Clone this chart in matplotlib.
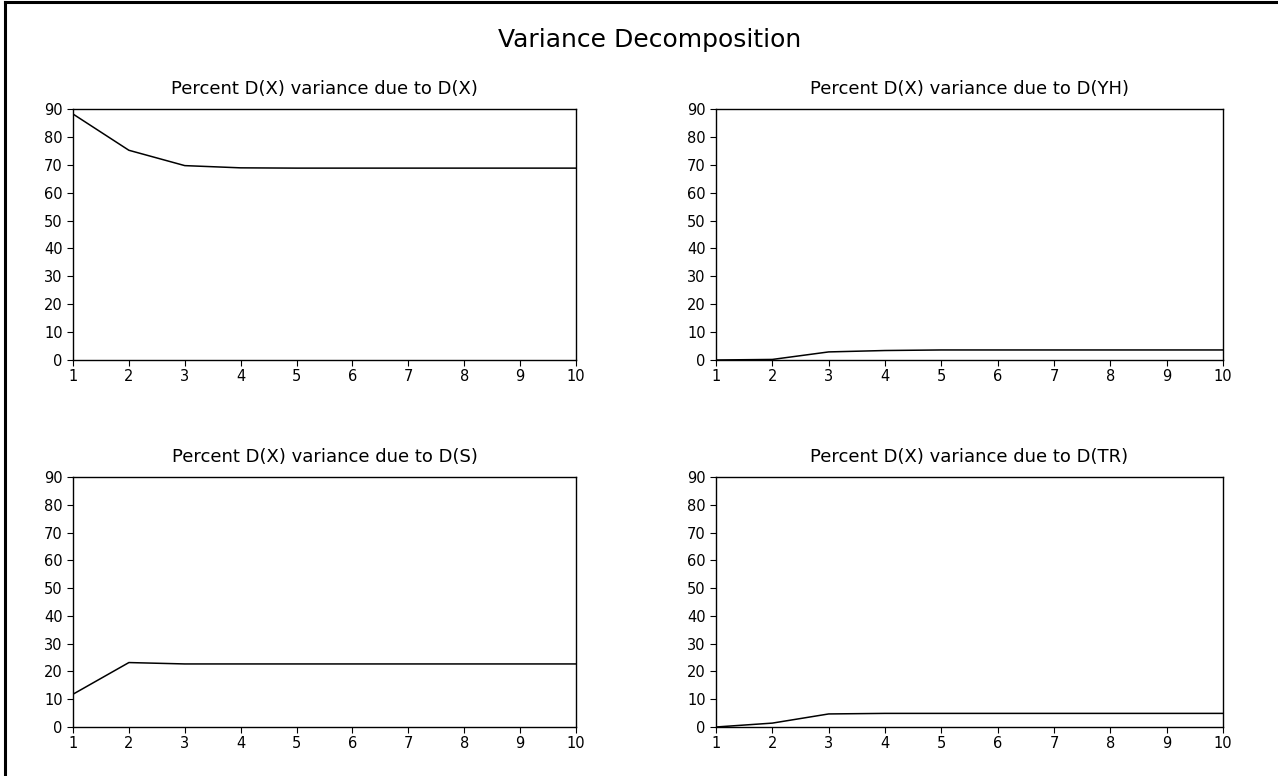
import matplotlib
matplotlib.use("Agg")
import matplotlib.pyplot as plt
from matplotlib.lines import Line2D

plt.rcParams['font.family'] = ['DejaVu Sans']

periods = [1, 2, 3, 4, 5, 6, 7, 8, 9, 10]
due_to_x = [88.2, 75.2, 69.7, 68.9, 68.8, 68.8, 68.8, 68.8, 68.8, 68.8]
due_to_yh = [0.0, 0.2, 2.9, 3.4, 3.6, 3.6, 3.6, 3.6, 3.6, 3.6]
due_to_s = [11.8, 23.2, 22.7, 22.7, 22.7, 22.7, 22.7, 22.7, 22.7, 22.7]
due_to_tr = [0.0, 1.4, 4.7, 4.9, 4.9, 4.9, 4.9, 4.9, 4.9, 4.9]

titles = [
    "Percent D(X) variance due to D(X)",
    "Percent D(X) variance due to D(YH)",
    "Percent D(X) variance due to D(S)",
    "Percent D(X) variance due to D(TR)",
]
series = [due_to_x, due_to_yh, due_to_s, due_to_tr]
y_ticks = [0, 10, 20, 30, 40, 50, 60, 70, 80, 90]

W, H = 1278, 776
fig = plt.figure(figsize=(W / 100, H / 100), dpi=100)

# axes boxes in pixels: (left, top, right, bottom)
boxes = [
    (73, 109, 576, 360),
    (716, 109, 1223, 360),
    (73, 477, 576, 727),
    (716, 477, 1223, 727),
]

for (l, t, r, b), title, vals in zip(boxes, titles, series):
    ax = fig.add_axes([l / W, 1 - b / H, (r - l) / W, (b - t) / H])
    ax.plot(periods, vals, color='black', linewidth=1.1)
    ax.set_xlim(1, 10)
    ax.set_ylim(0, 90)
    ax.set_xticks(periods)
    ax.set_yticks(y_ticks)
    ax.tick_params(direction='out', length=4.5, width=0.8, labelsize=10.5,
                   colors='black')
    ax.tick_params(axis='y', pad=3)
    ax.tick_params(axis='x', pad=2)
    for s in ax.spines.values():
        s.set_linewidth(1.0)
        s.set_color('black')
    ax.set_title(title, fontsize=13, pad=11)

fig.text(0.508, 1 - 40 / H, "Variance Decomposition", ha='center', va='center',
         fontsize=18)

# outer frame (top and left edges)
fig.add_artist(Line2D([5 / W, 1.0], [1 - 2 / H, 1 - 2 / H], color='black',
                      linewidth=2.2, transform=fig.transFigure))
fig.add_artist(Line2D([5 / W, 5 / W], [0.0, 1 - 2 / H], color='black',
                      linewidth=2.2, transform=fig.transFigure))

fig.savefig("out.png", dpi=100, facecolor='white')
